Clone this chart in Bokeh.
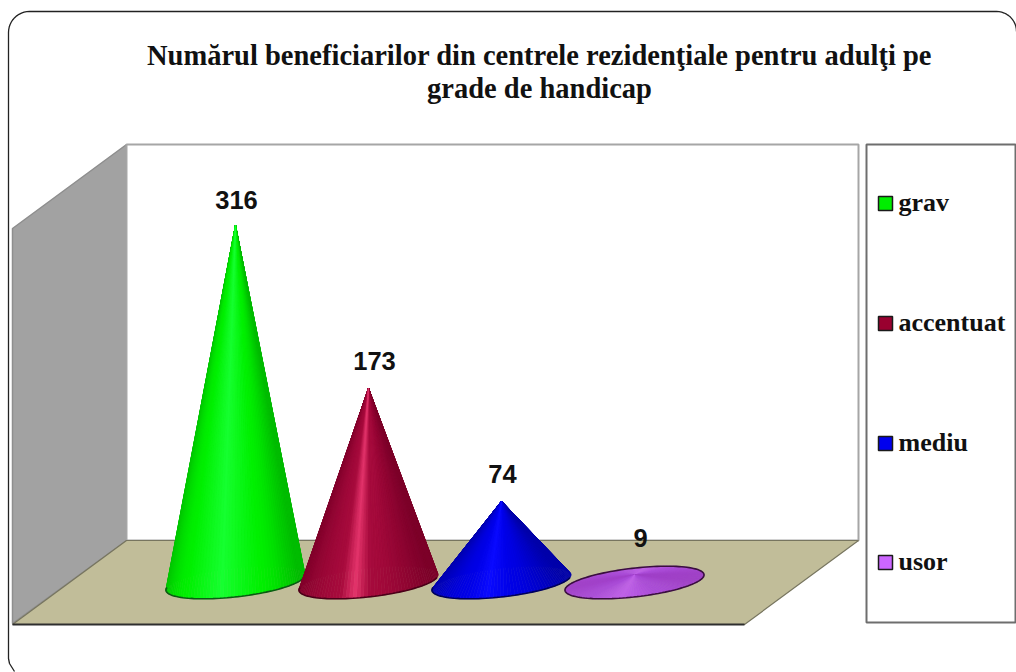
import math
from bokeh.plotting import figure
from bokeh.models import Range1d, ColumnDataSource
from bokeh.core.properties import value
from bokeh.embed import file_html
from bokeh.resources import INLINE

categories = ["grav", "accentuat", "mediu", "usor"]
values = [316, 173, 74, 9]
title_lines = ["Numărul beneficiarilor din centrele rezidenţiale pentru adulţi pe", "grade de handicap"]
bright = ["#16ff30", "#e2336a", "#0a0aff", "#bf60e8"]
middle = ["#00f000", "#a60a3c", "#0000e6", "#aa4cd8"]
dark = ["#00bc00", "#7c0029", "#0000aa", "#a040c8"]
edge = ["#0c5a14", "#4a0018", "#00005a", "#3a0f3e"]
band = [0.55, 0.22, 0.35, 0.5]
swatch = ["#00ee00", "#99002f", "#0000ee", "#cc66ff"]

PX_W, PX_H = 1016, 672
X0, DX = 235.0, 133.0      # pixel of category 0, pixels per category
Y0, DY = 585.0, 1.14       # pixel of value 0, pixels per unit

p = figure(width=PX_W, height=PX_H, output_backend="svg", toolbar_location=None,
           x_axis_type=None, y_axis_type=None, min_border=0,
           x_range=Range1d(-X0 / DX, (PX_W - X0) / DX),
           y_range=Range1d((Y0 - PX_H) / DY, Y0 / DY))
p.outline_line_color = None
p.grid.visible = False
p.background_fill_color = "white"
p.border_fill_color = "white"
p.extra_x_ranges["px"] = Range1d(0, PX_W)
p.extra_y_ranges["px"] = Range1d(PX_H, 0)
PX = dict(x_range_name="px", y_range_name="px")

# rounded slide frame
def arc(cx, cy, r, a0, a1, n=12):
    return [(cx + r * math.cos(math.radians(a0 + (a1 - a0) * i / n)),
             cy + r * math.sin(math.radians(a0 + (a1 - a0) * i / n))) for i in range(n + 1)]
frame = [(14, 671), (9, 663), (8, 658)] + arc(29, 32, 21, 180, 270) + arc(996, 31, 20, 270, 360)
p.line([q[0] for q in frame], [q[1] for q in frame], line_color="#222222", line_width=1.3, **PX)

# walls and floor
p.patch([12, 126, 126, 12], [228, 144, 540, 623], fill_color="#a2a2a2", line_color="#8e8e8e", line_width=1.5, **PX)
p.patch([126, 858, 858, 126], [144, 144, 540, 540], fill_color="white", line_color="#a6a6a6", line_width=2, **PX)
p.patch([126, 858, 744, 12], [540, 540, 624, 624], fill_color="#c1bd99", line_color="#77755f", line_width=1.2, **PX)
p.line([12, 744], [624, 624], line_color="#2e2e2e", line_width=2, **PX)

# legend
p.patch([866, 1015, 1015, 866], [144, 144, 622, 622], fill_color="white", line_color="#6e6e6e", line_width=2, **PX)
legend_y = [203, 323, 443, 562]
p.rect([885] * 4, legend_y, width=14, height=14, fill_color=swatch, line_color="#1a1a1a", line_width=1.5, **PX)
p.text([898] * 4, [y - 1 for y in legend_y], text=categories, text_font=value("Liberation Serif"),
       text_font_style="bold", text_font_size="26px", text_baseline="middle", text_color="#111111", **PX)

# title
p.text([539, 539], [55, 88], text=title_lines, text_font=value("Liberation Serif"), text_font_style="bold",
       text_font_size="28.5px", text_align="center", text_baseline="middle", text_color="#111111", **PX)

# cones
def mix(a, b, f):
    ca = [int(a[i:i + 2], 16) for i in (1, 3, 5)]
    cb = [int(b[i:i + 2], 16) for i in (1, 3, 5)]
    return "#%02x%02x%02x" % tuple(round(u + (v - u) * f) for u, v in zip(ca, cb))

def shade(u, hi, mid, lo, w):
    u = abs(u + 0.03)
    if u < w:
        return mix(hi, mid, u / w)
    return mix(mid, lo, min(1.0, ((u - w) / (1 - w)) ** 1.5))

A, K, S, B = 0.515, 0.09, 5.0 / 1.14, 15.5 / 1.14  # base half-width in categories; shear and depth
N = 120
for i, (v, hi, mid, lo, ed, w) in enumerate(zip(values, bright, middle, dark, edge, band)):
    pts = []
    for j in range(N + 1):
        t = 2 * math.pi * j / N
        pts.append((i + A * math.cos(t) - K * math.sin(t), S * math.cos(t) - B * math.sin(t) + 3 / DY))
    order = sorted(range(N), key=lambda j: math.sin(2 * math.pi * (j + 0.5) / N))
    xs, ys, cols = [], [], []
    for j in order:
        t = 2 * math.pi * (j + 0.5) / N
        cols.append(shade(math.cos(t), hi, mid, lo, w))
        xs.append([i, pts[j][0], pts[j + 1][0]])
        ys.append([v, pts[j][1], pts[j + 1][1]])
    src = ColumnDataSource(dict(xs=xs, ys=ys, c=cols))
    p.patches("xs", "ys", source=src, fill_color="c", line_color="c", line_width=0.6)
    outline = pts if v < 30 else pts[:N // 2 + 1]
    p.line([q[0] for q in outline], [q[1] for q in outline], line_color=ed, line_width=1.6)

# value labels
p.text(list(range(4)), values, text=[str(v) for v in values], x_offset=[1, 6, 1, 6], y_offset=[-16, -18, -18, -28],
       text_font=value("Liberation Sans"), text_font_style="bold", text_font_size="25.5px",
       text_align="center", text_color="#111111", text_baseline="bottom")

open("out.html", "w").write(file_html(p, INLINE))
